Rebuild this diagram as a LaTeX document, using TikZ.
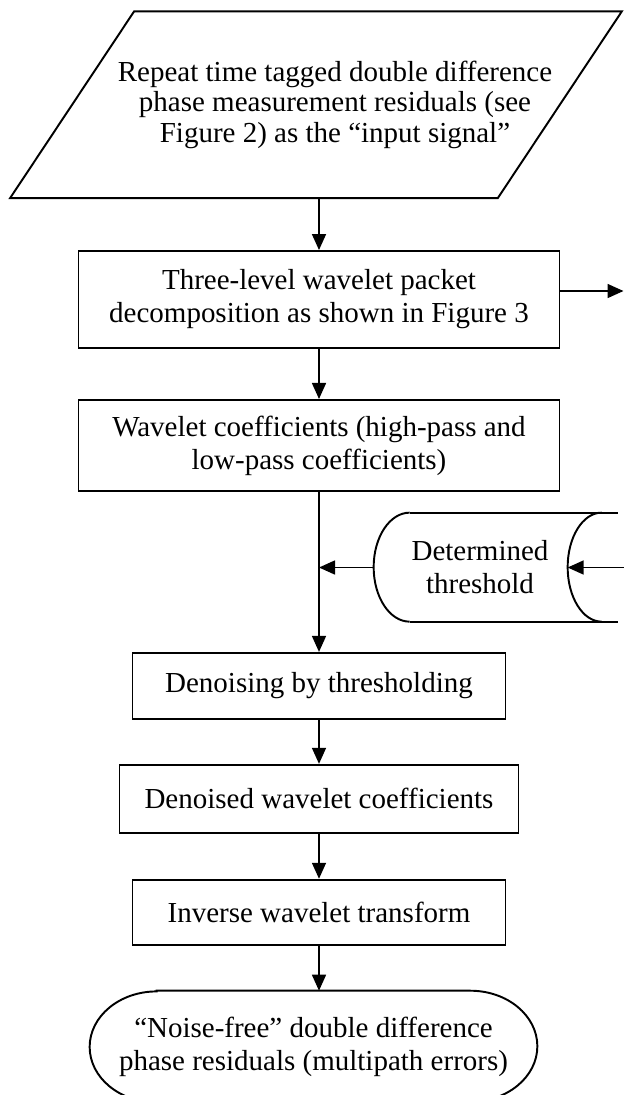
\documentclass[tikz,border=0pt]{standalone}
\usepackage{fontspec}
\setmainfont{Liberation Serif}
\usetikzlibrary{arrows.meta, positioning, calc}

\begin{document}
\begin{tikzpicture}[
    font=\fontsize{16.5}{18.8}\selectfont,
    block/.style={rectangle, draw, line width=1.1pt, minimum width=9.62cm, align=center, inner sep=0pt},
    shell/.style={align=center, inner sep=0pt},
    outline/.style={line width=1.1pt},
    arrow/.style={-{Triangle[length=0.32cm, width=0.28cm]}, line width=0.9pt},
]

\useasboundingbox (0,0) rectangle (12.48,-21.9);

% === Decomposition and input signal ===
\node (decomp) [block, minimum height=1.94cm] at (6.38,-5.99) {Three-level wavelet packet\\decomposition as shown in Figure 3};
\node (input) [shell, minimum width=9.74cm, minimum height=3.72cm, above=1.04cm of decomp, xshift=0.32cm,
    font=\fontsize{16.5}{17.4}\selectfont] {Repeat time tagged double difference\\phase measurement residuals (see\\Figure 2) as the “input signal”};

% parallelogram round the input (text sits right of its centre)
\draw[outline] ([xshift=0.86cm]input.north west) -- ([xshift=0.86cm]input.north east)
    -- ([xshift=-1.62cm]input.south east) -- ([xshift=-1.62cm]input.south west) -- cycle;

% === Main chain ===
\node (coef) [block, minimum height=1.82cm, below=1.0cm of decomp] {Wavelet coefficients (high-pass and\\low-pass coefficients)};
\node (denoise) [block, minimum width=7.46cm, minimum height=1.32cm, below=3.2cm of coef] {Denoising by thresholding};
\node (denoised) [block, minimum width=7.98cm, minimum height=1.36cm, below=0.88cm of denoise] {Denoised wavelet coefficients};
\node (invwt) [block, minimum width=7.46cm, minimum height=1.3cm, below=0.9cm of denoised] {Inverse wavelet transform};

% === Terminal ===
\node (result) [shell, minimum width=8.94cm, minimum height=2.22cm, below=0.9cm of invwt, xshift=-0.11cm] {“Noise-free” double difference\\phase residuals (multipath errors)};
\draw[outline] ([xshift=1.34cm]result.north west) -- ([xshift=-1.34cm]result.north east)
    arc[start angle=90, end angle=-90, x radius=1.34cm, y radius=1.11cm]
    -- ([xshift=1.34cm]result.south west)
    arc[start angle=270, end angle=90, x radius=1.34cm, y radius=1.11cm] -- cycle;

% === Determined threshold (stored data) ===
\node (thresh) [shell, minimum width=4.24cm, minimum height=2.18cm] at (9.6,-11.35) {Determined\\threshold};
\draw[outline] ([xshift=0.72cm]thresh.north west) -- ++(4.16,0);
\draw[outline] ([xshift=0.72cm]thresh.south west) -- ++(4.16,0);
\draw[outline] ([xshift=0.72cm]thresh.north west) arc[start angle=90, end angle=270, x radius=0.72cm, y radius=1.09cm];
\draw[outline] ([xshift=4.56cm]thresh.north west) arc[start angle=90, end angle=270, x radius=0.68cm, y radius=1.09cm];

% free ends at the right margin
\coordinate (nextstep) at (12.47,-5.82);
\coordinate (thrsrc) at (12.48,-11.35);

% === Arrows ===
\draw[arrow] (decomp.north |- input.south) -- (decomp);
\draw[arrow] ([yshift=0.17cm]decomp.east) -- (nextstep);
\draw[arrow] (decomp) -- (coef);
\draw[arrow] (coef) -- (denoise);
\draw[arrow] (thresh.west) -- (thresh.west -| coef.south);
\draw[arrow] (thrsrc) -- ([xshift=3.88cm]thresh.west);
\draw[arrow] (denoise) -- (denoised);
\draw[arrow] (denoised) -- (invwt);
\draw[arrow] (invwt.south) -- (invwt.south |- result.north);

\end{tikzpicture}
\end{document}
